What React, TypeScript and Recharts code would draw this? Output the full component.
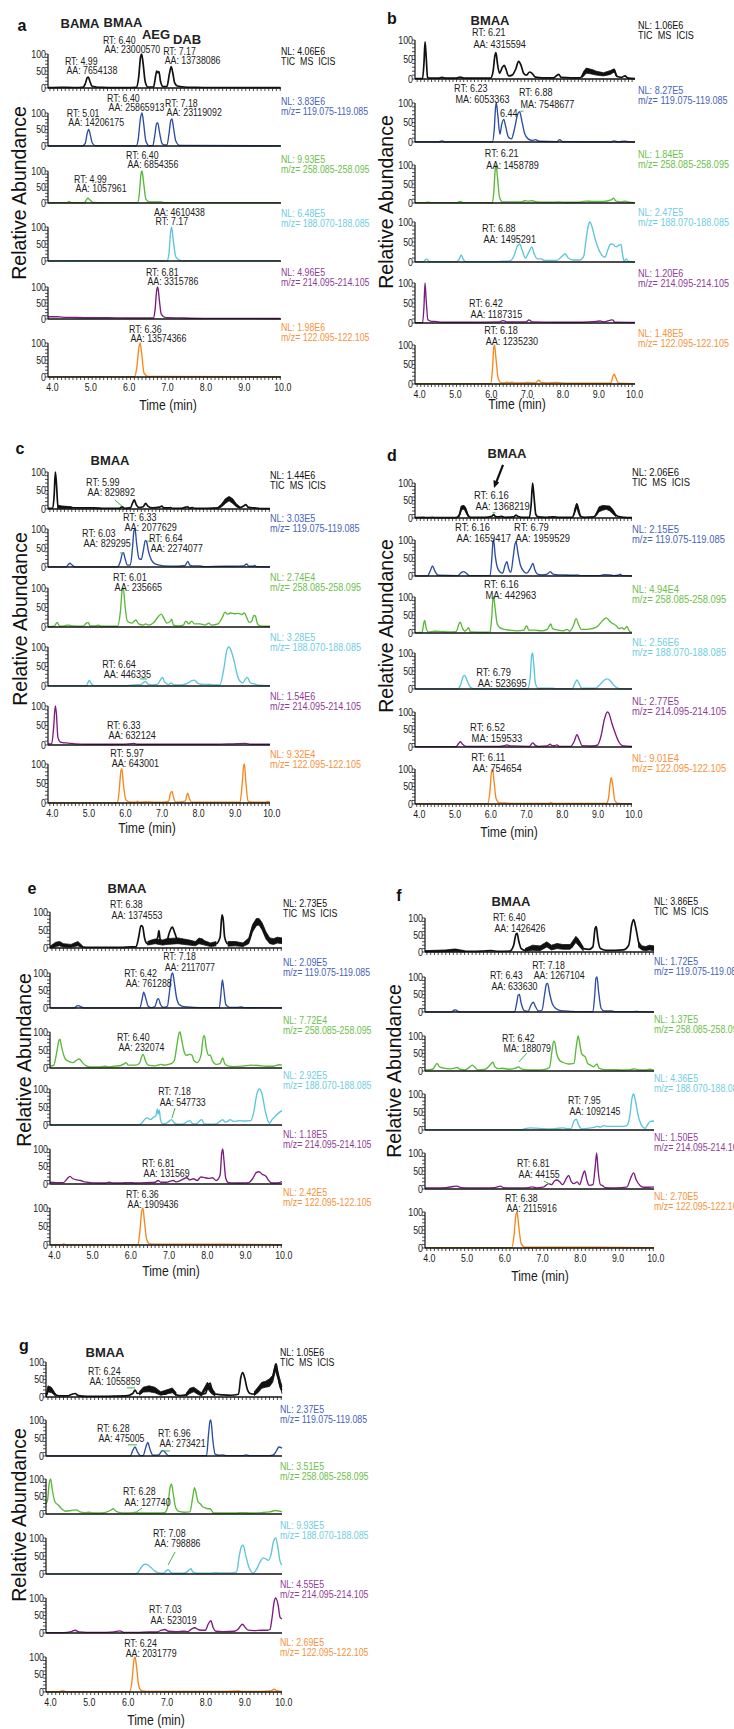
import React from 'react';
import { ComposedChart, Line, Area, XAxis, YAxis, ReferenceDot, ReferenceLine } from 'recharts';

type Pt = [number, number];
type Band = [number, number, number];
type Ann = { t: number; v: number; lines: string[] };
type Lead = [number, number, number, number];

const SANS = "'Liberation Sans',Arial,Helvetica,sans-serif";
const SX = 0.84;

const TRACE_COLORS = ['#111111', '#2c4da2', '#5bb83a', '#5cc5dc', '#7b1d80', '#f7871d'];
const LABEL_COLORS = ['#111111', '#4763b8', '#6cc04a', '#6fcde2', '#8f3d96', '#f7923a'];
const MZ_LABELS = ['TIC  MS  ICIS', 'm/z= 119.075-119.085', 'm/z= 258.085-258.095', 'm/z= 188.070-188.085', 'm/z= 214.095-214.105', 'm/z= 122.095-122.105'];
const X_TICK_LABELS = [4, 5, 6, 7, 8, 9, 10];
const Y_TICKS = [0, 10, 20, 30, 40, 50, 60, 70, 80, 90, 100];
const Y_TICK_LABELS = [0, 50, 100];
const MINOR_TICKS: number[] = [];
for (let i = 0; i < X_TICK_LABELS.length - 1; i++) for (let k = 0; k < 10; k++) MINOR_TICKS.push(Math.round((X_TICK_LABELS[i] + k / 10) * 10) / 10);
MINOR_TICKS.push(10);

// ---------------- Panel a ----------------
const aTIC: Pt[] = [[3.95,1],[4.3,2],[4.6,1.5],[4.85,2],[4.92,12],[4.97,30],[5.0,32],[5.04,20],[5.1,5],[5.2,3],[5.35,2],[5.6,1],[6.0,1],[6.25,2],[6.31,30],[6.36,90],[6.39,100],[6.43,70],[6.48,20],[6.55,3],[6.7,3],[6.74,25],[6.78,50],[6.81,45],[6.84,48],[6.88,20],[6.95,4],[7.05,5],[7.11,40],[7.16,63],[7.2,45],[7.25,15],[7.32,6],[7.5,3],[7.8,2],[8.2,1.5],[8.6,1.5],[9.0,1],[9.5,1],[10.0,1]];
const aBlue: Pt[] = [[3.95,0.5],[4.85,0.5],[4.92,8],[4.97,38],[5.01,50],[5.05,35],[5.1,10],[5.18,1],[6.25,0.5],[6.3,20],[6.36,85],[6.4,100],[6.44,70],[6.5,15],[6.58,1],[6.68,1],[6.73,30],[6.78,68],[6.81,70],[6.85,45],[6.92,8],[6.98,3],[7.05,3],[7.1,35],[7.15,78],[7.18,82],[7.22,55],[7.28,15],[7.38,2],[10.0,0.5]];
const aGreen: Pt[] = [[3.95,1],[4.45,1],[4.5,5],[4.55,1],[4.9,1],[4.95,10],[4.99,15],[5.04,10],[5.12,2],[5.4,1],[6.28,1],[6.33,30],[6.37,88],[6.40,100],[6.44,65],[6.5,12],[6.6,3],[6.9,3],[7.0,1],[10.0,1]];
const aCyan: Pt[] = [[3.95,0.5],[5.3,1],[5.5,0.5],[7.05,0.5],[7.1,20],[7.14,80],[7.17,100],[7.21,65],[7.28,12],[7.4,2],[7.6,0.5],[10.0,0.5]];
const aPurple: Pt[] = [[3.95,7],[4.2,7],[4.3,6],[4.6,5],[5.0,4],[5.5,4],[6.0,3],[6.5,3],[6.7,3],[6.74,30],[6.78,88],[6.81,100],[6.85,60],[6.9,15],[7.0,5],[7.5,3],[8.0,2],[9.0,2],[10.0,1.5]];
const aOrange: Pt[] = [[3.95,1],[6.2,1],[6.26,25],[6.32,88],[6.35,100],[6.39,70],[6.45,12],[6.55,2],[10.0,1]];
const aAnns: Ann[][] = [
  [{ t: 4.39, v: 69, lines: ['RT: 4.99', 'AA: 7654138'] }, { t: 5.38, v: 128, lines: ['RT: 6.40', 'AA: 23000570'] }, { t: 6.95, v: 98, lines: ['RT: 7.17', 'AA: 13738086'] }],
  [{ t: 5.49, v: 132, lines: ['RT: 6.40', 'AA: 25865913'] }, { t: 7.0, v: 117, lines: ['RT: 7.18', 'AA: 23119092'] }, { t: 4.44, v: 89, lines: ['RT: 5.01', 'AA: 14206175'] }],
  [{ t: 5.98, v: 136, lines: ['RT: 6.40', 'AA: 6854356'] }, { t: 4.63, v: 61, lines: ['RT: 4.99', 'AA: 1057961'] }],
  [{ t: 6.71, v: 131, lines: ['AA: 4610438', 'RT: 7.17'] }],
  [{ t: 6.5, v: 133, lines: ['RT: 6.81', 'AA: 3315786'] }],
  [{ t: 6.06, v: 128, lines: ['RT: 6.36', 'AA: 13574366'] }],
];
const aNL = ['NL: 4.06E6', 'NL: 3.83E6', 'NL: 9.93E5', 'NL: 6.48E5', 'NL: 4.96E5', 'NL: 1.98E6'];

// ---------------- Panel b ----------------
const bTIC: Pt[] = [[3.94,1],[4.15,1],[4.19,40],[4.22,95],[4.25,60],[4.29,5],[4.35,2],[4.6,2],[4.69,4],[4.8,2],[5.1,2],[5.2,5],[5.3,2],[5.7,2],[6.05,2],[6.12,20],[6.17,60],[6.2,68],[6.24,40],[6.3,15],[6.38,30],[6.43,35],[6.48,25],[6.55,8],[6.65,10],[6.75,25],[6.83,45],[6.9,35],[6.97,15],[7.05,10],[7.14,18],[7.2,15],[7.3,5],[7.5,3],[7.8,3],[7.95,12],[8.02,4],[8.3,3],[8.55,3],[8.65,15],[8.75,25],[8.85,22],[8.95,18],[9.1,15],[9.3,12],[9.45,20],[9.5,24],[9.56,8],[9.7,4],[9.8,8],[9.87,3],[10.08,1]];
const bTICBand: Band[][] = [[[8.6,3,8],[8.65,8,20],[8.72,15,28],[8.8,14,26],[8.9,12,24],[9.0,10,20],[9.2,8,16],[9.4,12,22],[9.5,18,26],[9.58,4,8]]];
const bBlue: Pt[] = [[3.94,0.5],[4.6,0.5],[4.69,3],[4.78,0.5],[6.1,0.5],[6.15,30],[6.19,90],[6.21,100],[6.25,70],[6.31,20],[6.36,45],[6.42,58],[6.47,40],[6.55,12],[6.63,8],[6.72,35],[6.8,70],[6.86,78],[6.92,55],[7.0,22],[7.1,8],[7.2,4],[7.3,6],[7.4,2],[7.9,1],[7.98,6],[8.06,1],[9.4,0.5],[9.5,3],[9.6,0.5],[9.8,2],[9.9,0.5],[10.08,0.5]];
const bGreen: Pt[] = [[3.94,1],[4.2,1],[4.3,2],[4.4,1],[5.1,1],[5.2,4],[5.3,1],[6.1,1],[6.14,30],[6.18,90],[6.2,100],[6.24,70],[6.3,15],[6.38,3],[6.9,3],[7.0,6],[7.1,5],[7.2,6],[7.35,3],[7.6,2],[7.95,3],[8.2,2],[8.5,2],[8.7,5],[8.9,4],[9.2,4],[9.42,8],[9.48,13],[9.55,5],[9.7,3],[9.82,5],[9.9,2],[10.08,1]];
const bCyan: Pt[] = [[3.94,1],[4.18,1],[4.26,8],[4.34,1],[5.1,1],[5.18,8],[5.23,18],[5.28,8],[5.35,1],[6.2,1],[6.4,2],[6.6,3],[6.7,15],[6.8,40],[6.86,45],[6.93,30],[7.02,10],[7.12,25],[7.2,38],[7.26,22],[7.35,8],[7.46,8],[7.55,4],[7.9,4],[8.05,15],[8.13,20],[8.22,10],[8.35,5],[8.55,5],[8.65,15],[8.72,60],[8.78,92],[8.82,100],[8.88,88],[8.96,60],[9.05,35],[9.15,18],[9.24,12],[9.32,30],[9.4,45],[9.47,44],[9.55,38],[9.63,42],[9.69,44],[9.74,15],[9.78,2],[9.84,8],[9.9,1],[10.08,0.5]];
const bPurple: Pt[] = [[3.94,1],[4.15,1],[4.19,40],[4.22,100],[4.25,60],[4.3,8],[4.4,4],[4.5,4],[4.7,2],[5.5,2],[6.3,3],[6.4,6],[6.5,3],[7.05,3],[7.12,8],[7.2,3],[7.9,2],[8.6,2],[9.0,4],[9.1,5],[9.2,3],[9.45,8],[9.52,2],[10.08,1.5]];
const bOrange: Pt[] = [[3.94,1],[6.05,1],[6.1,35],[6.14,95],[6.16,100],[6.2,65],[6.26,15],[6.34,3],[6.45,3],[6.5,5],[6.58,3],[6.65,5],[6.7,3],[7.0,3],[7.05,4],[7.3,3],[7.4,10],[7.46,4],[7.6,3],[7.9,4],[8.0,3],[8.3,2],[9.4,2],[9.46,18],[9.5,25],[9.55,15],[9.62,2],[10.08,1]];
const bAnns: Ann[][] = [
  [{ t: 5.53, v: 109, lines: ['RT: 6.21', 'AA: 4315594'] }],
  [{ t: 5.03, v: 129, lines: ['RT: 6.23', 'MA: 6053363'] }, { t: 6.84, v: 117, lines: ['RT: 6.88', 'MA: 7548677'] }, { t: 6.31, v: 63, lines: ['6.44'] }],
  [{ t: 5.89, v: 120, lines: ['RT: 6.21', 'AA: 1458789'] }],
  [{ t: 5.81, v: 76, lines: ['RT: 6.88', 'AA: 1495291'] }],
  [{ t: 5.45, v: 41, lines: ['RT: 6.42', 'AA: 1187315'] }],
  [{ t: 5.87, v: 129, lines: ['RT: 6.18', 'AA: 1235230'] }],
];
const bLeads: Lead[][] = [[], [[6.88, 79, 6.97, 79]], [], [], [], []];
const bNL = ['NL: 1.06E6', 'NL: 8.27E5', 'NL: 1.84E5', 'NL: 2.47E5', 'NL: 1.20E6', 'NL: 1.48E5'];

// ---------------- Panel c ----------------
const cTIC: Pt[] = [[3.95,2],[4.08,2],[4.12,40],[4.15,100],[4.18,70],[4.22,10],[4.3,5],[4.5,4],[4.8,3],[5.2,3],[5.5,2],[5.9,2],[5.98,6],[6.05,2],[6.2,3],[6.27,18],[6.31,25],[6.36,12],[6.45,4],[6.55,6],[6.62,15],[6.68,8],[6.8,3],[7.0,5],[7.06,8],[7.12,3],[7.25,3],[7.3,4],[7.35,2],[7.6,2],[7.72,5],[7.77,6],[7.82,2],[7.9,4],[7.95,2],[8.3,2],[8.6,3],[8.7,10],[8.8,22],[8.9,30],[8.98,25],[9.08,12],[9.2,4],[9.3,8],[9.36,12],[9.42,5],[9.55,3],[9.6,3],[9.8,1],[10.02,1]];
const cTICBand: Band[][] = [[[4.2,2,10],[4.35,2,8],[4.6,2,6]], [[8.6,2,5],[8.7,6,14],[8.8,15,28],[8.9,22,34],[9.0,15,28],[9.1,6,14],[9.2,2,6]]];
const cBlue: Pt[] = [[3.95,0.5],[4.45,0.5],[4.5,6],[4.55,10],[4.6,6],[4.68,0.5],[5.85,0.5],[5.93,15],[5.98,35],[6.01,38],[6.05,25],[6.12,5],[6.2,5],[6.26,50],[6.3,95],[6.33,100],[6.37,65],[6.44,22],[6.5,20],[6.56,45],[6.61,70],[6.65,65],[6.7,40],[6.78,18],[6.88,8],[7.0,5],[7.1,3],[7.5,2],[7.7,4],[7.77,15],[7.83,5],[7.9,3],[8.1,3],[8.2,1],[8.8,2],[9.0,2],[9.3,3],[9.38,8],[9.44,2],[9.55,2],[9.6,4],[9.65,1],[10.02,0.5]];
const cGreen: Pt[] = [[3.95,1],[4.12,2],[4.2,12],[4.27,2],[4.4,3],[4.5,5],[4.6,3],[4.9,2],[5.0,10],[5.05,12],[5.1,3],[5.25,3],[5.33,5],[5.4,2],[5.85,2],[5.93,40],[5.98,95],[6.01,100],[6.05,60],[6.12,15],[6.25,10],[6.35,18],[6.43,8],[6.55,5],[6.62,8],[6.7,5],[6.85,12],[6.95,25],[7.05,33],[7.12,22],[7.2,10],[7.3,15],[7.33,20],[7.38,5],[7.5,3],[7.65,5],[7.72,15],[7.8,8],[7.88,15],[7.95,8],[8.1,8],[8.25,5],[8.35,10],[8.42,5],[8.6,8],[8.72,25],[8.79,38],[8.85,33],[8.95,36],[9.05,34],[9.15,35],[9.25,32],[9.32,36],[9.38,25],[9.45,12],[9.52,15],[9.58,30],[9.62,28],[9.68,8],[9.75,3],[9.9,2],[10.02,2]];
const cCyan: Pt[] = [[3.95,1],[4.5,1],[5.0,1],[5.05,10],[5.08,15],[5.12,8],[5.2,1],[6.1,1],[6.3,3],[6.5,4],[6.57,10],[6.62,12],[6.68,5],[6.8,3],[6.95,5],[7.04,18],[7.08,22],[7.14,10],[7.25,4],[7.32,8],[7.38,3],[7.6,3],[7.75,6],[7.88,14],[7.95,15],[8.05,7],[8.2,4],[8.4,4],[8.5,3],[8.65,3],[8.75,40],[8.85,95],[8.9,100],[8.95,92],[9.05,60],[9.12,30],[9.2,12],[9.28,8],[9.35,18],[9.4,22],[9.47,10],[9.55,6],[9.62,5],[9.7,2],[10.02,1]];
const cPurple: Pt[] = [[3.95,3],[4.05,3],[4.1,40],[4.15,100],[4.18,80],[4.22,20],[4.28,8],[4.35,6],[4.5,5],[4.7,3],[5.0,2],[5.5,2],[6.0,2],[6.3,4],[6.4,2],[7.0,2],[7.5,2],[8.5,2],[9.0,3],[9.35,4],[9.5,2],[10.02,2]];
const cOrange: Pt[] = [[3.95,1],[5.85,1],[5.9,35],[5.94,80],[5.97,88],[6.01,50],[6.08,8],[6.2,2],[6.35,2],[6.4,5],[6.45,2],[6.7,3],[6.8,2],[7.1,2],[7.25,5],[7.3,25],[7.34,30],[7.38,15],[7.45,2],[7.7,5],[7.77,25],[7.82,10],[7.88,2],[9.2,2],[9.26,50],[9.3,95],[9.32,100],[9.36,55],[9.42,5],[9.55,2],[9.9,2],[9.95,4],[10.02,2]];
const cAnns: Ann[][] = [
  [{ t: 4.99, v: 61, lines: ['RT: 5.99', 'AA: 829892'] }],
  [{ t: 6.0, v: 120, lines: ['RT: 6.33', 'AA: 2077629'] }, { t: 4.88, v: 78, lines: ['RT: 6.03', 'AA: 829295'] }, { t: 6.71, v: 67, lines: ['RT: 6.64', 'AA: 2274077'] }],
  [{ t: 5.73, v: 119, lines: ['RT: 6.01', 'AA: 235665'] }],
  [{ t: 5.43, v: 45, lines: ['RT: 6.64', 'AA: 446335'] }],
  [{ t: 5.56, v: 42, lines: ['RT: 6.33', 'AA: 632124'] }],
  [{ t: 5.65, v: 119, lines: ['RT: 5.97', 'AA: 643001'] }],
];
const cLeads: Lead[][] = [[[5.78, 24, 5.97, 8]], [[5.92, 37, 6.04, 37], [6.66, 68, 6.8, 68]], [], [[6.47, 18, 6.66, 18]], [], []];
const cNL = ['NL: 1.44E6', 'NL: 3.03E5', 'NL: 2.74E4', 'NL: 3.28E5', 'NL: 1.54E6', 'NL: 9.32E4'];

// ---------------- Panel d ----------------
const dTIC: Pt[] = [[3.95,1],[4.19,2],[4.3,1],[4.44,2],[4.55,1],[5.1,1],[5.2,10],[5.26,30],[5.31,33],[5.36,28],[5.42,10],[5.5,2],[5.9,2],[6.1,5],[6.15,10],[6.2,4],[6.3,3],[6.37,5],[6.45,2],[6.7,3],[6.78,8],[6.82,5],[6.95,2],[7.15,2],[7.2,40],[7.24,100],[7.28,60],[7.33,10],[7.4,3],[7.6,2],[7.8,3],[8.0,2],[8.35,2],[8.42,20],[8.48,40],[8.52,25],[8.58,5],[8.7,2],[8.95,3],[9.05,15],[9.15,30],[9.25,28],[9.35,32],[9.45,25],[9.55,10],[9.62,5],[9.7,3],[9.8,2],[10.02,1]];
const dTICBand: Band[][] = [[[5.18,2,8],[5.24,22,34],[5.32,26,36],[5.4,10,20],[5.45,2,5]], [[8.4,8,20],[8.47,30,42],[8.53,12,25],[8.58,2,6]], [[9.0,4,10],[9.1,18,32],[9.2,22,36],[9.3,25,35],[9.4,20,34],[9.5,10,22],[9.58,3,8]]];
const dBlue: Pt[] = [[3.95,0.5],[4.3,0.5],[4.38,15],[4.44,28],[4.5,15],[4.6,2],[5.15,1],[5.25,10],[5.31,12],[5.38,8],[5.48,1],[6.05,1],[6.1,50],[6.13,95],[6.15,100],[6.19,60],[6.25,25],[6.32,12],[6.4,8],[6.47,30],[6.52,40],[6.57,20],[6.63,10],[6.7,55],[6.75,90],[6.78,95],[6.82,70],[6.9,30],[7.0,12],[7.08,8],[7.17,20],[7.25,35],[7.3,18],[7.38,5],[7.5,3],[7.65,5],[7.73,12],[7.8,6],[7.9,4],[8.1,3],[8.4,2],[8.48,3],[8.6,1],[9.1,1],[9.25,4],[9.4,3],[9.5,1],[9.63,2],[9.69,5],[9.75,1],[10.02,0.5]];
const dGreen: Pt[] = [[3.95,1],[4.15,2],[4.19,25],[4.22,35],[4.26,15],[4.32,3],[4.5,5],[4.7,4],[4.9,3],[5.1,4],[5.18,25],[5.22,30],[5.27,15],[5.35,5],[5.42,12],[5.45,15],[5.5,3],[5.9,2],[6.05,3],[6.1,50],[6.13,95],[6.15,100],[6.19,70],[6.25,25],[6.32,15],[6.45,10],[6.6,8],[6.8,6],[7.0,8],[7.05,18],[7.08,20],[7.13,8],[7.3,8],[7.5,6],[7.65,10],[7.72,22],[7.75,25],[7.8,12],[7.95,8],[8.1,6],[8.2,10],[8.28,5],[8.38,20],[8.46,40],[8.52,25],[8.6,10],[8.75,10],[8.9,12],[9.05,18],[9.2,35],[9.3,42],[9.38,35],[9.45,28],[9.51,25],[9.58,20],[9.66,12],[9.74,15],[9.8,10],[9.88,18],[9.95,5],[10.02,2]];
const dCyan: Pt[] = [[3.95,0.5],[5.15,0.5],[5.22,10],[5.3,35],[5.34,38],[5.4,25],[5.5,5],[5.6,1],[7.1,1],[7.17,30],[7.21,90],[7.24,100],[7.27,70],[7.32,15],[7.4,2],[7.8,2],[7.9,1],[8.35,1],[8.42,15],[8.48,25],[8.54,15],[8.62,2],[9.0,2],[9.12,12],[9.25,25],[9.32,28],[9.4,24],[9.5,12],[9.6,3],[9.7,1],[10.02,0.5]];
const dPurple: Pt[] = [[3.95,1],[5.1,1],[5.17,10],[5.22,15],[5.28,8],[5.38,2],[6.3,2],[6.45,4],[6.52,6],[6.6,3],[7.15,2],[7.22,10],[7.25,12],[7.3,6],[7.4,2],[7.65,3],[7.73,8],[7.78,4],[7.86,4],[7.92,6],[7.98,2],[8.3,2],[8.4,15],[8.48,35],[8.55,20],[8.62,4],[8.9,3],[9.05,5],[9.15,30],[9.25,80],[9.33,100],[9.38,95],[9.45,70],[9.55,40],[9.65,15],[9.75,4],[10.02,1.5]];
const dOrange: Pt[] = [[3.95,1],[5.98,1],[6.04,30],[6.09,92],[6.12,100],[6.16,65],[6.22,15],[6.3,4],[6.45,3],[6.8,2],[7.7,2],[7.75,4],[7.8,2],[9.3,2],[9.36,15],[9.41,60],[9.44,75],[9.48,55],[9.54,10],[9.62,2],[10.02,1]];
const dAnns: Ann[][] = [
  [{ t: 5.6, v: 53, lines: ['RT: 6.16', 'AA: 1368219'] }],
  [{ t: 5.07, v: 126, lines: ['RT: 6.16', 'AA: 1659417'] }, { t: 6.72, v: 126, lines: ['RT: 6.79', 'AA: 1959529'] }],
  [{ t: 5.88, v: 126, lines: ['RT: 6.16', 'MA: 442963'] }],
  [{ t: 5.66, v: 37.5, lines: ['RT: 6.79', 'AA: 523695'] }],
  [{ t: 5.49, v: 47, lines: ['RT: 6.52', 'MA: 159533'] }],
  [{ t: 5.52, v: 124, lines: ['RT: 6.11', 'AA: 754654'] }],
];
const dLeads: Lead[][] = [[[6.12, 15, 6.2, 15]], [[6.75, 96, 6.82, 96]], [], [], [], []];
const dArrow = { t: 6.16, v: 86 };
const dNL = ['NL: 2.06E6', 'NL: 2.15E5', 'NL: 4.94E4', 'NL: 2.56E6', 'NL: 2.77E5', 'NL: 9.01E4'];

// ---------------- Panel e ----------------
const eTIC: Pt[] = [[3.95,2],[4.05,3],[4.12,10],[4.2,12],[4.3,8],[4.45,6],[4.6,8],[4.68,12],[4.75,5],[4.9,2],[5.3,2],[5.8,2],[6.1,3],[6.2,3],[6.27,30],[6.33,62],[6.37,60],[6.43,25],[6.5,12],[6.6,15],[6.7,18],[6.77,30],[6.8,48],[6.83,25],[6.9,15],[7.0,18],[7.08,45],[7.15,58],[7.22,40],[7.3,20],[7.45,18],[7.6,15],[7.75,12],[7.85,20],[7.92,25],[8.0,15],[8.15,10],[8.3,12],[8.4,30],[8.45,92],[8.48,80],[8.52,30],[8.6,12],[8.8,12],[9.0,10],[9.15,20],[9.25,55],[9.35,72],[9.42,74],[9.5,60],[9.6,35],[9.7,20],[9.8,18],[9.9,22],[10.02,20]];
const eTICBand: Band[][] = [
  [[3.95,0,5],[4.1,4,16],[4.2,6,18],[4.3,3,12],[4.5,2,10],[4.68,6,18],[4.8,1,6]],
  [[6.5,8,18],[6.6,10,22],[6.7,12,25],[6.9,8,22],[7.0,10,26],[7.3,12,28],[7.45,10,25],[7.6,8,22],[7.75,6,18],[7.85,12,28],[8.0,8,20],[8.15,4,14],[8.3,6,18]],
  [[8.6,5,18],[8.8,6,18],[9.0,4,14],[9.15,12,28],[9.25,45,65],[9.35,62,82],[9.42,64,82],[9.5,50,70],[9.6,25,45],[9.7,12,28],[9.8,10,26],[9.9,14,30],[10.02,12,28]],
];
const eBlue: Pt[] = [[3.95,0.5],[4.6,0.5],[4.65,6],[4.7,7],[4.76,3],[4.85,0.5],[6.3,0.5],[6.36,25],[6.4,45],[6.45,30],[6.52,5],[6.6,1],[6.7,5],[6.76,25],[6.79,27],[6.84,10],[6.92,2],[7.02,5],[7.08,50],[7.13,95],[7.16,100],[7.2,75],[7.26,30],[7.33,10],[7.45,4],[7.7,2],[7.9,1],[8.38,1],[8.43,50],[8.46,80],[8.49,60],[8.55,10],[8.65,2],[8.85,2],[8.95,3],[9.05,1],[10.02,0.5]];
const eGreen: Pt[] = [[3.95,5],[4.05,8],[4.12,40],[4.18,75],[4.21,80],[4.26,55],[4.35,25],[4.45,18],[4.55,15],[4.65,22],[4.72,25],[4.8,15],[4.9,6],[5.0,3],[5.2,3],[5.4,5],[5.5,3],[5.65,5],[5.8,7],[5.9,12],[5.94,15],[6.0,8],[6.2,8],[6.3,15],[6.36,35],[6.39,38],[6.44,22],[6.52,8],[6.7,6],[6.85,10],[6.95,8],[7.05,10],[7.12,12],[7.2,20],[7.28,70],[7.33,98],[7.35,100],[7.4,75],[7.46,45],[7.52,35],[7.6,38],[7.66,36],[7.72,20],[7.8,15],[7.9,35],[7.96,85],[7.99,90],[8.04,55],[8.1,35],[8.14,36],[8.2,20],[8.3,10],[8.4,12],[8.47,28],[8.52,12],[8.6,6],[8.75,4],[9.0,5],[9.2,8],[9.4,7],[9.6,5],[9.8,5],[9.95,9],[10.02,8]];
const eCyan: Pt[] = [[3.95,0.5],[6.25,0.5],[6.35,5],[6.45,18],[6.5,20],[6.58,15],[6.66,22],[6.72,25],[6.76,45],[6.78,30],[6.81,42],[6.84,15],[6.9,3],[7.0,5],[7.08,12],[7.13,15],[7.2,6],[7.3,2],[7.45,3],[7.55,10],[7.61,12],[7.68,4],[7.78,3],[7.87,12],[7.92,15],[7.98,4],[8.1,2],[8.3,3],[8.42,12],[8.47,15],[8.53,8],[8.6,10],[8.66,15],[8.75,10],[8.9,12],[9.05,11],[9.2,12],[9.28,35],[9.36,85],[9.43,100],[9.5,85],[9.58,40],[9.65,12],[9.69,5],[9.76,15],[9.85,25],[9.95,35],[10.02,40]];
const ePurple: Pt[] = [[3.95,5],[4.1,4],[4.3,4],[4.4,15],[4.47,22],[4.55,15],[4.65,12],[4.75,10],[4.85,6],[5.0,4],[5.2,3],[5.4,3],[5.5,5],[5.6,3],[5.8,3],[6.0,4],[6.2,3],[6.5,4],[6.7,5],[6.78,10],[6.85,5],[7.0,5],[7.1,8],[7.18,10],[7.25,6],[7.4,12],[7.53,18],[7.6,12],[7.7,15],[7.8,10],[7.9,20],[8.0,18],[8.1,16],[8.2,18],[8.3,10],[8.4,25],[8.44,85],[8.47,100],[8.5,70],[8.55,15],[8.62,4],[8.8,3],[9.0,3],[9.15,4],[9.25,15],[9.35,33],[9.42,35],[9.5,28],[9.6,22],[9.66,12],[9.75,3],[9.9,3],[10.02,7]];
const eOrange: Pt[] = [[3.95,1],[4.25,1],[4.3,3],[4.38,1],[6.25,1],[6.3,35],[6.35,92],[6.38,100],[6.42,65],[6.48,15],[6.56,3],[6.7,2],[8.5,2],[10.02,1]];
const eAnns: Ann[][] = [
  [{ t: 5.52, v: 110, lines: ['RT: 6.38', 'AA: 1374553'] }],
  [{ t: 6.91, v: 136, lines: ['RT: 7.18', 'AA: 2117077'] }, { t: 5.89, v: 90, lines: ['RT: 6.42', 'AA: 761288'] }],
  [{ t: 5.7, v: 76, lines: ['RT: 6.40', 'AA: 232074'] }],
  [{ t: 6.78, v: 82, lines: ['RT: 7.18', 'AA: 547733'] }],
  [{ t: 6.36, v: 50, lines: ['RT: 6.81', 'AA: 131569'] }],
  [{ t: 5.94, v: 128, lines: ['RT: 6.36', 'AA: 1909436'] }],
];
const eLeads: Lead[][] = [[], [], [], [[7.22, 47, 7.14, 19]], [], []];
const eNL = ['NL: 2.73E5', 'NL: 2.09E5', 'NL: 7.72E4', 'NL: 2.92E5', 'NL: 1.18E5', 'NL: 2.42E5'];

// ---------------- Panel f ----------------
const fTIC: Pt[] = [[3.95,2],[4.2,3],[4.4,3],[4.6,4],[4.75,6],[4.9,3],[5.2,2],[5.5,3],[5.7,4],[5.9,2],[6.2,3],[6.3,20],[6.36,52],[6.39,55],[6.44,30],[6.5,10],[6.6,5],[6.7,8],[6.79,15],[6.88,8],[7.0,10],[7.1,15],[7.18,25],[7.25,15],[7.35,12],[7.5,18],[7.6,15],[7.7,12],[7.85,15],[7.93,35],[7.98,40],[8.05,25],[8.15,10],[8.3,8],[8.4,15],[8.46,70],[8.49,75],[8.53,40],[8.6,10],[8.75,5],[9.0,5],[9.2,6],[9.35,20],[9.43,80],[9.48,95],[9.54,70],[9.62,25],[9.7,12],[9.8,10],[9.9,12],[10.02,10]];
const fTICBand: Band[][] = [
  [[3.95,0,4],[4.5,1,6],[4.75,2,9],[5.0,0,4]],
  [[6.6,2,10],[6.8,5,20],[7.0,4,18],[7.18,15,30],[7.3,6,20],[7.45,10,25],[7.6,8,22],[7.8,8,22],[7.95,28,46],[8.05,15,32],[8.15,3,14]],
  [[9.6,15,32],[9.7,6,18],[9.8,4,16],[9.9,6,20],[10.02,4,18]],
];
const fBlue: Pt[] = [[3.95,0.5],[4.65,0.5],[4.72,5],[4.76,6],[4.82,2],[4.9,0.5],[6.32,0.5],[6.38,25],[6.42,48],[6.45,50],[6.5,25],[6.58,4],[6.68,2],[6.76,20],[6.82,28],[6.88,15],[6.96,3],[7.05,5],[7.12,50],[7.17,80],[7.2,82],[7.25,55],[7.32,25],[7.42,10],[7.55,4],[7.8,2],[8.0,1],[8.4,1],[8.45,50],[8.48,95],[8.51,100],[8.55,60],[8.62,10],[8.7,3],[8.9,3],[9.0,1],[9.5,1],[9.55,2],[9.6,1],[10.02,0.5]];
const fGreen: Pt[] = [[3.95,3],[4.15,5],[4.22,15],[4.27,22],[4.33,12],[4.45,8],[4.6,6],[4.72,8],[4.8,10],[4.88,5],[5.0,3],[5.12,10],[5.2,17],[5.26,12],[5.35,3],[5.55,5],[5.68,18],[5.75,25],[5.8,12],[5.9,7],[6.0,8],[6.2,5],[6.35,8],[6.43,12],[6.5,6],[6.7,3],[6.9,3],[7.1,4],[7.25,10],[7.32,60],[7.36,85],[7.39,82],[7.44,50],[7.52,30],[7.6,25],[7.75,20],[7.9,22],[7.96,70],[8.01,100],[8.05,80],[8.1,50],[8.14,45],[8.2,40],[8.26,22],[8.32,18],[8.42,12],[8.51,20],[8.56,8],[8.7,4],[8.9,4],[9.2,3],[9.4,4],[9.5,6],[9.6,3],[9.8,3],[9.9,5],[10.02,2]];
const fCyan: Pt[] = [[3.95,1],[6.5,1],[6.6,4],[6.75,6],[6.9,5],[7.05,4],[7.2,3],[7.4,4],[7.6,6],[7.7,4],[7.82,4],[7.9,25],[7.96,30],[8.02,15],[8.1,3],[8.3,5],[8.45,8],[8.51,10],[8.6,8],[8.69,12],[8.8,10],[9.0,10],[9.2,10],[9.3,12],[9.38,40],[9.44,90],[9.48,100],[9.53,80],[9.6,40],[9.68,15],[9.75,6],[9.79,5],[9.85,15],[9.92,24],[10.02,25]];
const fPurple: Pt[] = [[3.95,3],[4.2,3],[4.5,4],[4.7,7],[4.8,8],[4.9,4],[5.2,3],[5.5,3],[5.8,4],[5.95,8],[6.02,4],[6.2,3],[6.5,3],[6.7,4],[6.8,6],[6.9,3],[7.1,6],[7.23,15],[7.3,12],[7.38,22],[7.45,25],[7.52,20],[7.6,12],[7.7,30],[7.76,38],[7.82,22],[7.9,15],[7.98,20],[8.05,12],[8.12,35],[8.18,50],[8.24,25],[8.3,10],[8.4,12],[8.46,60],[8.5,100],[8.54,50],[8.6,12],[8.65,10],[8.72,4],[9.0,3],[9.3,5],[9.4,30],[9.48,45],[9.55,25],[9.65,10],[9.75,5],[9.9,5],[10.02,6]];
const fOrange: Pt[] = [[3.95,1],[6.25,1],[6.31,35],[6.36,92],[6.39,100],[6.43,65],[6.5,12],[6.6,2],[8.5,2],[10.02,1]];
const fAnns: Ann[][] = [
  [{ t: 5.75, v: 90, lines: ['RT: 6.40', 'AA: 1426426'] }],
  [{ t: 6.79, v: 124, lines: ['RT: 7.18', 'AA: 1267104'] }, { t: 5.67, v: 93, lines: ['RT: 6.43', 'AA: 633630'] }],
  [{ t: 5.99, v: 84, lines: ['RT: 6.42', 'MA: 188079'] }],
  [{ t: 7.74, v: 71, lines: ['RT: 7.95', 'AA: 1092145'] }],
  [{ t: 6.39, v: 60, lines: ['RT: 6.81', 'AA: 44155'] }],
  [{ t: 6.07, v: 129, lines: ['RT: 6.38', 'AA: 2115916'] }],
];
const fLeads: Lead[][] = [[], [], [[6.65, 51, 6.44, 26]], [], [[7.1, 22, 7.26, 14]], []];
const fNL = ['NL: 3.86E5', 'NL: 1.72E5', 'NL: 1.37E5', 'NL: 4.36E5', 'NL: 1.50E5', 'NL: 2.70E5'];
const fMZ = ['TIC  MS  ICIS', 'm/z= 119.075-119.085', 'm/z= 258.085-258.095', 'm/z= 188.070-188.085', 'm/z= 214.095-214.106', 'm/z= 122.095-122.105'];

// ---------------- Panel g ----------------
const gTIC: Pt[] = [[3.95,3],[3.98,10],[4.02,25],[4.05,28],[4.1,20],[4.18,8],[4.3,3],[4.5,3],[4.62,8],[4.7,10],[4.78,4],[5.0,2],[5.5,2],[6.0,3],[6.18,10],[6.24,20],[6.3,10],[6.4,12],[6.5,22],[6.6,25],[6.7,22],[6.8,15],[6.9,10],[7.0,8],[7.12,15],[7.2,20],[7.28,8],[7.4,4],[7.55,6],[7.65,18],[7.74,22],[7.82,15],[7.95,8],[8.05,10],[8.13,35],[8.17,40],[8.22,20],[8.3,8],[8.5,6],[8.7,5],[8.9,8],[8.96,55],[9.01,70],[9.06,55],[9.12,25],[9.2,10],[9.3,8],[9.4,20],[9.5,35],[9.6,38],[9.7,42],[9.78,55],[9.84,85],[9.87,95],[9.92,60],[9.97,30],[10.02,20]];
const gTICBand: Band[][] = [
  [[3.95,0,5],[4.0,15,32],[4.1,12,26],[4.2,2,8]],
  [[6.35,5,15],[6.45,14,28],[6.6,15,32],[6.75,12,28],[6.9,5,15],[7.1,10,22],[7.2,12,26],[7.3,3,12]],
  [[7.55,2,10],[7.65,10,25],[7.75,15,28],[7.85,8,20],[7.95,3,12],[8.1,25,42],[8.2,10,28],[8.3,3,12]],
  [[9.3,4,14],[9.4,12,28],[9.5,25,42],[9.6,28,45],[9.7,30,52],[9.78,42,62],[9.85,75,95],[9.92,50,70],[10.02,10,30]],
];
const gBlue: Pt[] = [[3.95,0.5],[6.12,0.5],[6.18,15],[6.24,25],[6.3,12],[6.38,1],[6.45,2],[6.52,25],[6.57,38],[6.62,20],[6.7,2],[6.85,3],[6.93,14],[6.97,15],[7.03,8],[7.1,1],[8.08,1],[8.13,60],[8.17,98],[8.19,100],[8.24,45],[8.3,5],[8.4,2],[8.5,3],[8.6,1],[9.0,1],[9.1,3],[9.2,1],[9.7,1],[9.8,3],[9.88,15],[9.94,25],[10.02,22]];
const gGreen: Pt[] = [[3.95,30],[3.99,40],[4.03,85],[4.07,100],[4.11,70],[4.18,35],[4.27,25],[4.35,15],[4.45,8],[4.6,10],[4.74,12],[4.82,6],[4.95,4],[5.06,5],[5.15,3],[5.4,3],[5.6,10],[5.68,15],[5.75,8],[5.85,4],[6.0,3],[6.2,4],[6.24,5],[6.3,3],[6.5,3],[6.8,3],[7.0,4],[7.08,20],[7.14,75],[7.18,85],[7.22,60],[7.28,20],[7.35,8],[7.5,5],[7.65,6],[7.72,45],[7.77,75],[7.8,65],[7.86,35],[7.93,28],[7.98,20],[8.04,18],[8.1,15],[8.16,15],[8.21,10],[8.26,3],[8.5,3],[8.8,3],[9.0,4],[9.2,3],[9.5,4],[9.7,6],[9.85,10],[9.95,8],[10.02,6]];
const gCyan: Pt[] = [[3.95,0.5],[6.25,0.5],[6.32,5],[6.4,18],[6.48,27],[6.55,26],[6.65,18],[6.75,8],[6.85,3],[6.98,2],[7.05,10],[7.1,12],[7.16,4],[7.3,2],[7.5,2],[7.62,10],[7.68,15],[7.73,5],[7.85,2],[8.2,2],[8.3,4],[8.4,3],[8.7,3],[8.85,5],[8.92,50],[8.98,78],[9.02,80],[9.08,55],[9.15,25],[9.22,8],[9.28,3],[9.36,12],[9.45,32],[9.54,45],[9.6,42],[9.67,38],[9.74,55],[9.8,90],[9.86,100],[9.92,70],[9.97,35],[10.02,25]];
const gPurple: Pt[] = [[3.95,1],[4.4,1],[4.6,4],[4.7,8],[4.8,3],[5.0,2],[5.3,2],[5.5,2],[5.7,3],[5.85,6],[5.95,2],[6.3,2],[6.6,3],[6.8,3],[6.92,8],[7.01,10],[7.1,5],[7.3,4],[7.5,5],[7.6,4],[7.7,12],[7.78,15],[7.86,10],[7.95,8],[8.05,8],[8.12,25],[8.19,35],[8.25,15],[8.32,5],[8.5,4],[8.8,5],[8.9,12],[9.0,25],[9.08,15],[9.15,8],[9.3,7],[9.5,8],[9.65,8],[9.71,10],[9.76,40],[9.82,90],[9.86,100],[9.92,80],[9.97,45],[10.02,40]];
const gOrange: Pt[] = [[3.95,1],[4.3,1],[4.38,4],[4.46,1],[6.1,1],[6.16,30],[6.21,90],[6.24,100],[6.28,70],[6.34,15],[6.42,3],[6.55,2],[7.2,2],[7.5,2],[8.0,2],[8.5,2],[8.9,3],[9.0,2],[9.5,2],[9.75,4],[9.82,8],[9.88,4],[10.02,2]];
const gAnns: Ann[][] = [
  [{ t: 5.03, v: 64, lines: ['RT: 6.24', 'AA: 1055859'] }],
  [{ t: 5.26, v: 68, lines: ['RT: 6.28', 'AA: 475005'] }, { t: 6.83, v: 54, lines: ['RT: 6.96', 'AA: 273421'] }],
  [{ t: 5.93, v: 53, lines: ['RT: 6.28', 'AA: 127740'] }],
  [{ t: 6.7, v: 104, lines: ['RT: 7.08', 'AA: 798886'] }],
  [{ t: 6.6, v: 56, lines: ['RT: 7.03', 'AA: 523019'] }],
  [{ t: 5.96, v: 130, lines: ['RT: 6.24', 'AA: 2031779'] }],
];
const gLeads: Lead[][] = [[[6.03, 26, 6.24, 26]], [[6.06, 31, 6.29, 31], [6.96, 14, 7.14, 14]], [[6.42, 17, 6.24, 3]], [[7.27, 61, 7.09, 25]], [], []];
const gNL = ['NL: 1.05E6', 'NL: 2.37E5', 'NL: 3.51E5', 'NL: 9.93E5', 'NL: 4.55E5', 'NL: 2.69E5'];

// ---------------- layout ----------------
type Panel = {
  id: string; axisX: number; xEnd: number; domain: [number, number]; tops: number[]; bases: number[];
  traces: Pt[][]; band?: Band[][]; anns: Ann[][]; leads: Lead[][]; nl: string[]; mz: string[];
  letter: [number, number]; titles: [string, number, number][]; rel: [number, number]; time: [number, number];
  nlX: number; nlY: number[]; fs: number; gap: number; arrow?: { t: number; v: number };
};
const NO_LEADS: Lead[][] = [[], [], [], [], [], []];

const PANELS: Panel[] = [
  { id: 'a', axisX: 48, xEnd: 281, domain: [3.95, 10.02], tops: [54, 113, 171, 227, 287, 343], bases: [88, 146, 203, 261, 319, 377],
    traces: [aTIC, aBlue, aGreen, aCyan, aPurple, aOrange], anns: aAnns, leads: NO_LEADS, nl: aNL, mz: MZ_LABELS,
    letter: [22, 25], titles: [['BAMA', 80, 23], ['BMAA', 123, 22], ['AEG', 156, 34], ['DAB', 187, 39]], rel: [19, 193], time: [168, 405],
    nlX: 281, nlY: [51, 101, 159, 213, 272, 327], fs: 10.5, gap: 9 },
  { id: 'b', axisX: 415, xEnd: 635, domain: [3.94, 10.08], tops: [40, 103, 165, 222, 283, 345], bases: [79, 142, 203, 262, 323, 384],
    traces: [bTIC, bBlue, bGreen, bCyan, bPurple, bOrange], band: bTICBand, anns: bAnns, leads: bLeads, nl: bNL, mz: MZ_LABELS,
    letter: [392, 18], titles: [['BMAA', 490, 20]], rel: [386, 202], time: [517, 404],
    nlX: 638, nlY: [25, 90, 154, 212, 273, 333], fs: 10.8, gap: 11.5 },
  { id: 'c', axisX: 48, xEnd: 270, domain: [3.95, 10.02], tops: [472, 529, 588, 647, 706, 764], bases: [509, 567, 627, 686, 745, 803],
    traces: [cTIC, cBlue, cGreen, cCyan, cPurple, cOrange], band: cTICBand, anns: cAnns, leads: cLeads, nl: cNL, mz: MZ_LABELS,
    letter: [20, 448], titles: [['BMAA', 110, 460]], rel: [20, 619], time: [147, 828],
    nlX: 270, nlY: [475, 518, 577, 637, 696, 754], fs: 10.8, gap: 10 },
  { id: 'd', axisX: 415, xEnd: 632, domain: [3.95, 10.02], tops: [483, 540, 597, 653, 712, 769], bases: [518, 576, 633, 689, 747, 804],
    traces: [dTIC, dBlue, dGreen, dCyan, dPurple, dOrange], band: dTICBand, anns: dAnns, leads: dLeads, nl: dNL, mz: MZ_LABELS,
    letter: [392, 455], titles: [['BMAA', 507, 453]], rel: [386, 626], time: [509, 832],
    nlX: 632, nlY: [472, 529, 589, 642, 701, 758], fs: 11.2, gap: 11, arrow: dArrow },
  { id: 'e', axisX: 50, xEnd: 282, domain: [3.95, 10.02], tops: [912, 973, 1032, 1089, 1149, 1208], bases: [948, 1008, 1068, 1125, 1184, 1245],
    traces: [eTIC, eBlue, eGreen, eCyan, ePurple, eOrange], band: eTICBand, anns: eAnns, leads: eLeads, nl: eNL, mz: MZ_LABELS,
    letter: [32, 888], titles: [['BMAA', 127, 888]], rel: [24, 1060], time: [171, 1271],
    nlX: 283, nlY: [903, 962, 1020, 1075, 1134, 1192], fs: 10.5, gap: 10.8 },
  { id: 'f', axisX: 425, xEnd: 654, domain: [3.95, 10.02], tops: [918, 977, 1036, 1094, 1153, 1212], bases: [952, 1012, 1071, 1130, 1189, 1248],
    traces: [fTIC, fBlue, fGreen, fCyan, fPurple, fOrange], band: fTICBand, anns: fAnns, leads: fLeads, nl: fNL, mz: fMZ,
    letter: [399, 895], titles: [['BMAA', 511, 901]], rel: [394, 1071], time: [540, 1276],
    nlX: 654, nlY: [901, 961, 1019, 1078, 1137, 1196], fs: 10.5, gap: 10.5 },
  { id: 'g', axisX: 46, xEnd: 282, domain: [3.95, 10.02], tops: [1362, 1420, 1479, 1538, 1598, 1657], bases: [1397, 1456, 1514, 1574, 1633, 1692],
    traces: [gTIC, gBlue, gGreen, gCyan, gPurple, gOrange], band: gTICBand, anns: gAnns, leads: gLeads, nl: gNL, mz: MZ_LABELS,
    letter: [24, 1345], titles: [['BMAA', 105, 1352]], rel: [19, 1515], time: [156, 1720],
    nlX: 280, nlY: [1352, 1409, 1466, 1525, 1584, 1642], fs: 10.5, gap: 10.5 },
];

const YW = 36;
const RM = 4;

// condensed text: Liberation Sans squeezed horizontally
function NT({ x, y, fs, fill = '#1a1a1a', anchor = 'start', children }: any) {
  return (
    <text transform={`translate(${x},${y}) scale(${SX},1)`} x={0} y={0} fontSize={fs} fontFamily={SANS} fill={fill}
      textAnchor={anchor} style={{ whiteSpace: 'pre' }}>{children}</text>
  );
}

const YTickLabel = (p: any) => {
  const v = p.payload?.value;
  if (!Y_TICK_LABELS.includes(v)) return <g />;
  return <NT x={p.x + 3} y={p.y + 3.6} fs={10.5} anchor="end">{String(v)}</NT>;
};
const XTickLabel = (p: any) => {
  const v = p.payload?.value;
  if (!X_TICK_LABELS.some((t) => Math.abs(t - v) < 1e-6)) return <g />;
  return <NT x={p.x + 2.5} y={p.y + 8.5} fs={10.5} anchor="middle">{v.toFixed(1)}</NT>;
};
const NoTick = () => <g />;

const annShape = (lines: string[], fs: number, gap: number) => (p: any) => (
  <g>
    {lines.map((s, k) => (
      <NT key={k} x={p.cx + (k ? 1.5 : 0)} y={p.cy + k * gap} fs={fs}>{s}</NT>
    ))}
  </g>
);
const arrowShape = (p: any) => (
  <g>
    <line x1={p.cx + 9} y1={p.cy - 23} x2={p.cx + 2} y2={p.cy - 5} stroke="#111" strokeWidth={2.2} />
    <path d={`M${p.cx},${p.cy} L${p.cx + 5.3},${p.cy - 5.4} L${p.cx - 0.6},${p.cy - 7.8} Z`} fill="#111" />
  </g>
);

function RowChart({ P, i }: { P: Panel; i: number }) {
  const top = P.tops[i];
  const plotH = P.bases[i] - top;
  const plotW = P.xEnd - P.axisX;
  const w = YW + plotW + RM;
  const h = plotH + 1;
  const bottom = i === 5;
  const tickRow = i === 0 || bottom;
  const lineData = P.traces[i].map(([t, y]) => ({ t, y }));
  const bands = i === 0 && P.band ? P.band.map((seg) => seg.map(([t, lo, hi]) => ({ t, r: [lo, hi] }))) : [];
  return (
    <div style={{ position: 'absolute', left: P.axisX - YW, top, width: w, height: h }}>
      <ComposedChart width={w} height={h} margin={{ top: 0, right: RM, bottom: 0, left: 0 }}>
        <XAxis dataKey="t" type="number" domain={P.domain} height={1} ticks={MINOR_TICKS} interval={0}
          tick={bottom ? XTickLabel : NoTick} tickLine={tickRow ? { stroke: '#222', strokeWidth: 0.8 } : false} tickSize={3}
          axisLine={{ stroke: '#111', strokeWidth: 1.4 }} />
        <YAxis type="number" domain={[0, 100]} ticks={Y_TICKS} interval={0} width={YW} tickSize={3}
          tick={YTickLabel} tickLine={{ stroke: '#222', strokeWidth: 0.8 }} axisLine={{ stroke: '#111', strokeWidth: 1.2 }} />
        {bands.map((bd, k) => (
          <Area key={`b${k}`} data={bd} dataKey="r" type="linear" stroke="#111" strokeWidth={0.8} fill="#111" fillOpacity={1} isAnimationActive={false} dot={false} activeDot={false} />
        ))}
        <Line data={lineData} dataKey="y" type="monotone" stroke={TRACE_COLORS[i]} strokeWidth={i === 0 ? 1.7 : 1.35} dot={false} activeDot={false} isAnimationActive={false} />
        {P.leads[i].map((l, k) => (
          <ReferenceLine key={`l${k}`} segment={[{ x: l[0], y: l[1] }, { x: l[2], y: l[3] }]} stroke="#3fb54a" strokeWidth={1} ifOverflow="visible" />
        ))}
        {P.anns[i].map((a, k) => (
          <ReferenceDot key={`a${k}`} x={a.t} y={a.v} r={1} ifOverflow="visible" shape={annShape(a.lines, P.fs, P.gap)} />
        ))}
        {i === 0 && P.arrow && (
          <ReferenceDot x={P.arrow.t} y={P.arrow.v} r={1} ifOverflow="visible" shape={arrowShape} />
        )}
      </ComposedChart>
    </div>
  );
}

function PanelTexts({ P }: { P: Panel }) {
  return (
    <g>
      <text x={P.letter[0]} y={P.letter[1] + 5.5} textAnchor="middle" fontSize={16} fontWeight="bold" fontFamily={SANS} fill="#111">{P.id}</text>
      {P.titles.map(([s, x, y]) => (
        <text key={s} x={x} y={y + 4.5} textAnchor="middle" fontSize={13} fontWeight="bold" fontFamily={SANS} fill="#222">{s}</text>
      ))}
      <text transform={`translate(${P.rel[0] + 6.5},${P.rel[1]}) rotate(-90)`} textAnchor="middle" fontSize={19.5} fontFamily={SANS} fill="#111">Relative Abundance</text>
      <NT x={P.time[0]} y={P.time[1] + 5} fs={14.5} anchor="middle">Time (min)</NT>
      {P.nl.map((s, i) => (
        <g key={i}>
          <NT x={P.nlX} y={P.nlY[i] + 3.7} fs={P.fs} fill={LABEL_COLORS[i]}>{s}</NT>
          <NT x={P.nlX} y={P.nlY[i] + 13.7} fs={P.fs} fill={LABEL_COLORS[i]}>{P.mz[i]}</NT>
        </g>
      ))}
    </g>
  );
}

export default function App() {
  return (
    <div style={{ position: 'absolute', left: 0, top: 0, width: 734, height: 1729, background: '#fff', overflow: 'hidden' }}>
      <style>{'.recharts-surface{overflow:visible}.recharts-wrapper{overflow:visible}'}</style>
      {PANELS.map((P) => [0, 1, 2, 3, 4, 5].map((i) => <RowChart key={`${P.id}${i}`} P={P} i={i} />))}
      <svg width={734} height={1729} style={{ position: 'absolute', left: 0, top: 0, pointerEvents: 'none' }}>
        {PANELS.map((P) => <PanelTexts key={P.id} P={P} />)}
      </svg>
    </div>
  );
}
